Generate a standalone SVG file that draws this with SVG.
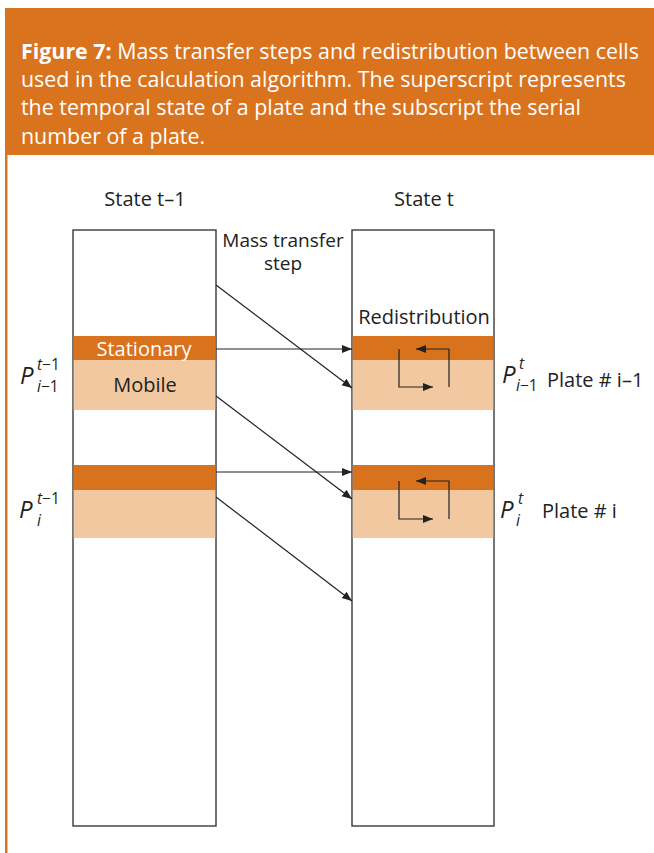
<svg xmlns="http://www.w3.org/2000/svg" width="654" height="853" viewBox="0 0 654 853">
<defs>
<style>
.hdr{font-family:"Open Sans","Noto Sans",sans-serif;font-size:21.4px;fill:#fff}
.lbl{font-family:"Open Sans","Noto Sans",sans-serif;font-size:20px;fill:#222}
.box{fill:#fff;stroke:#3a3a3a;stroke-width:1.4}
.dark{fill:#D9721C}
.light{fill:#F2C8A0}
.ln{stroke:#222;stroke-width:1.2;fill:none}
.pm{font-family:"Open Sans","Noto Sans",sans-serif;font-style:italic;font-size:24px;fill:#222}
.ps{font-family:"Open Sans","Noto Sans",sans-serif;font-size:15.5px;fill:#222}
.it{font-style:italic}
</style>
<marker id="ah" viewBox="0 0 10 10" refX="10" refY="5" markerWidth="10" markerHeight="10" markerUnits="userSpaceOnUse" orient="auto">
<path d="M0,1 L10,5 L0,9 z" fill="#222"/>
</marker>
</defs>
<rect x="0" y="0" width="654" height="853" fill="#fff"/>
<g id="header">
<rect x="5" y="8" width="649" height="147" fill="#DA731D"/>
<rect x="5" y="155" width="2.5" height="698" fill="#DA731D"/>
<text class="hdr" x="21" y="59"><tspan font-weight="bold">Figure 7:</tspan> Mass transfer steps and redistribution between cells</text>
<text class="hdr" x="21" y="87">used in the calculation algorithm. The superscript represents</text>
<text class="hdr" x="21" y="115">the temporal state of a plate and the subscript the serial</text>
<text class="hdr" x="21" y="144">number of a plate.</text>
</g>
<g id="state-prev">
<text class="lbl" x="145" y="206" text-anchor="middle">State t–1</text>
<rect class="box" x="73" y="230" width="143" height="596"/>
<rect class="dark" x="73.7" y="336" width="141.6" height="24"/>
<rect class="light" x="73.7" y="360" width="141.6" height="50"/>
<rect class="dark" x="73.7" y="465" width="141.6" height="25"/>
<rect class="light" x="73.7" y="490" width="141.6" height="48"/>
<text class="lbl" x="144" y="356" text-anchor="middle" style="fill:#fff">Stationary</text>
<text class="lbl" x="145" y="392" text-anchor="middle">Mobile</text>
</g>
<g id="state-now">
<text class="lbl" x="424" y="206" text-anchor="middle">State t</text>
<rect class="box" x="352" y="230" width="142" height="596"/>
<rect class="dark" x="352.7" y="336" width="140.6" height="24"/>
<rect class="light" x="352.7" y="360" width="140.6" height="50"/>
<rect class="dark" x="352.7" y="465" width="140.6" height="25"/>
<rect class="light" x="352.7" y="490" width="140.6" height="48"/>
<text class="lbl" x="424" y="324" text-anchor="middle">Redistribution</text>
</g>
<g id="redistribution-arrows">
<path class="ln" d="M399,349 V387 H433" marker-end="url(#ah)"/>
<path class="ln" d="M449,387 V349 H416" marker-end="url(#ah)"/>
<path class="ln" d="M399,481 V519 H433" marker-end="url(#ah)"/>
<path class="ln" d="M449,519 V481 H416" marker-end="url(#ah)"/>
</g>
<g id="connectors">
<line class="ln" x1="216" y1="285" x2="352" y2="388" marker-end="url(#ah)"/>
<line class="ln" x1="216" y1="349" x2="352" y2="349" marker-end="url(#ah)"/>
<line class="ln" x1="216" y1="396" x2="352" y2="499" marker-end="url(#ah)"/>
<line class="ln" x1="216" y1="472" x2="352" y2="472" marker-end="url(#ah)"/>
<line class="ln" x1="216" y1="497" x2="352" y2="601" marker-end="url(#ah)"/>
</g>
<g id="mass-transfer-label">
<text class="lbl" text-anchor="middle" style="font-size:19px"><tspan x="283" y="247">Mass transfer</tspan><tspan x="283" y="270">step</tspan></text>
</g>
<g id="labels-left">
<text class="pm" x="20" y="384">P</text>
<text class="ps" x="37" y="370"><tspan class="it">t</tspan>−1</text>
<text class="ps" x="37" y="392"><tspan class="it">i</tspan>−1</text>
<text class="pm" x="19" y="518">P</text>
<text class="ps" x="37" y="504"><tspan class="it">t</tspan>−1</text>
<text class="ps" x="37" y="526"><tspan class="it">i</tspan></text>
</g>
<g id="labels-right">
<text class="pm" x="502" y="383">P</text>
<text class="ps" x="519" y="369"><tspan class="it">t</tspan></text>
<text class="ps" x="516" y="391"><tspan class="it">i</tspan>−1</text>
<text class="lbl" x="547" y="387">Plate # i–1</text>
<text class="pm" x="500" y="518">P</text>
<text class="ps" x="518" y="504"><tspan class="it">t</tspan></text>
<text class="ps" x="516" y="526"><tspan class="it">i</tspan></text>
<text class="lbl" x="542" y="518">Plate # i</text>
</g>
</svg>
